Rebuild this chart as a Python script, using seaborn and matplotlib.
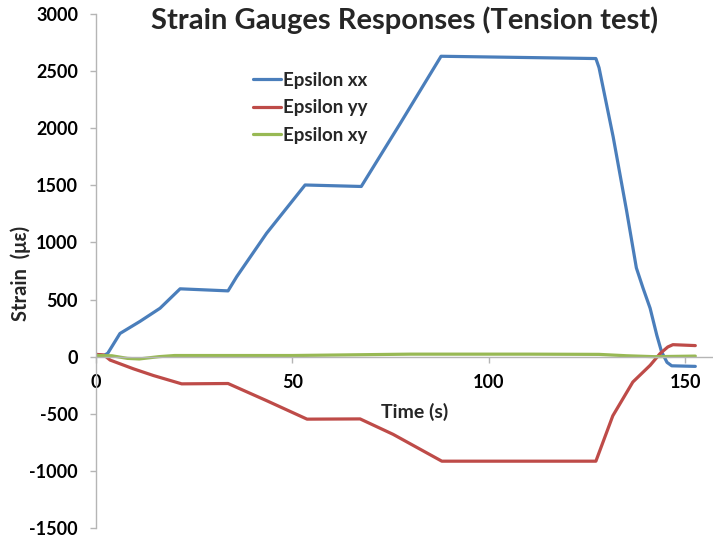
import matplotlib
matplotlib.use("Agg")
import matplotlib.pyplot as plt
import seaborn as sns
import pandas as pd

# ---- data ----
t_xx = [0, 2, 3, 6.1, 11.2, 16.3, 21.4, 33.6, 35.8, 43.4, 53.2, 67.5, 77.4, 87.8,
        127.2, 128, 131.6, 135, 137.5, 139.2, 141, 142.7, 143.9, 145.3, 146.5, 152.5]
eps_xx = [20, 10, 30, 203, 309, 424, 594, 576, 700, 1080, 1503, 1490, 2041, 2630,
          2610, 2530, 1924, 1280, 777, 600, 424, 188, 44, -50, -80, -85]

t_yy = [0, 2, 3.6, 9.5, 14.6, 21.8, 33.6, 43.4, 53.7, 67.2, 75.6, 88,
        127.2, 131.5, 136.6, 141, 143.5, 145.5, 146.8, 152.5]
eps_yy = [20, 15, -30, -106, -165, -238, -235, -385, -547, -545, -680, -915,
          -915, -518, -222, -76, 26, 85, 105, 97]

t_xy = [0, 4, 8, 11, 16, 20, 50, 80, 110, 128, 135, 142, 152.5]
eps_xy = [10, 8, -15, -20, 0, 10, 10, 22, 22, 20, 8, 0, 5]

series_names = ["Epsilon xx", "Epsilon yy", "Epsilon xy"]
colors = ["#4a7ebb", "#be4b48", "#98b954"]

title = "Strain Gauges Responses (Tension test)"
y_ticks = [-1500, -1000, -500, 0, 500, 1000, 1500, 2000, 2500, 3000]
x_ticks = [0, 50, 100, 150]

df = pd.concat([
    pd.DataFrame({"t": t_xx, "v": eps_xx, "series": series_names[0]}),
    pd.DataFrame({"t": t_yy, "v": eps_yy, "series": series_names[1]}),
    pd.DataFrame({"t": t_xy, "v": eps_xy, "series": series_names[2]}),
], ignore_index=True)

sns.set_theme(style="white")
plt.rcParams["font.family"] = ["Lato", "DejaVu Sans"]
plt.rcParams["font.weight"] = "bold"
plt.rcParams["axes.unicode_minus"] = False

W, H = 713, 542
fig = plt.figure(figsize=(W / 100, H / 100), dpi=100)
ax = fig.add_axes([96 / W, 14 / H, (713 - 96) / W, (528 - 14) / H])

sns.lineplot(data=df, x="t", y="v", hue="series", palette=colors,
             hue_order=series_names, estimator=None, sort=False,
             linewidth=2.3, legend=False, ax=ax)

ax.set_xlim(0, 157)
ax.set_ylim(-1500, 3000)
ax.set_yticks(y_ticks)
ax.set_xticks(x_ticks)
ax.set_xlabel("")
ax.set_ylabel("")

spine_c = "#b5b5b5"
for s in ["top", "right"]:
    ax.spines[s].set_visible(False)
ax.spines["left"].set_color(spine_c)
ax.spines["bottom"].set_color(spine_c)
ax.spines["bottom"].set_position(("data", 0))
ax.spines["left"].set_linewidth(1.0)
ax.spines["bottom"].set_linewidth(1.0)

ax.tick_params(axis="y", direction="out", length=4.3, width=1, color=spine_c,
               pad=8.6, labelsize=13, left=True)
ax.tick_params(axis="x", direction="out", length=4, width=1, color=spine_c,
               pad=8.5, labelsize=13, bottom=True)
for lab in ax.get_xticklabels() + ax.get_yticklabels():
    lab.set_fontweight("bold")
    lab.set_color("black")

# Legend
handles = [plt.Line2D([], [], color=c, lw=2.3) for c in colors]
leg = ax.legend(handles, series_names, loc="upper left",
                bbox_to_anchor=(253 / W, 1 - 72 / H), bbox_transform=fig.transFigure,
                frameon=False, borderpad=0, borderaxespad=0, handlelength=1.5,
                handletextpad=0.12, labelspacing=0.56,
                prop={"size": 13.5, "weight": "bold"})

fig.text(404.5 / W, 1 - 20 / H, title, ha="center", va="center",
         fontsize=21, fontweight="bold")
fig.text(21 / W, 1 - 273 / H, "Strain  (\u03bc\u03b5)", rotation=90, ha="center",
         va="center", fontsize=14.5, fontweight="bold")
ax.text(81, -485, "Time (s)", ha="center", va="center", fontsize=14,
        fontweight="bold")

fig.savefig("out.png", dpi=100)
